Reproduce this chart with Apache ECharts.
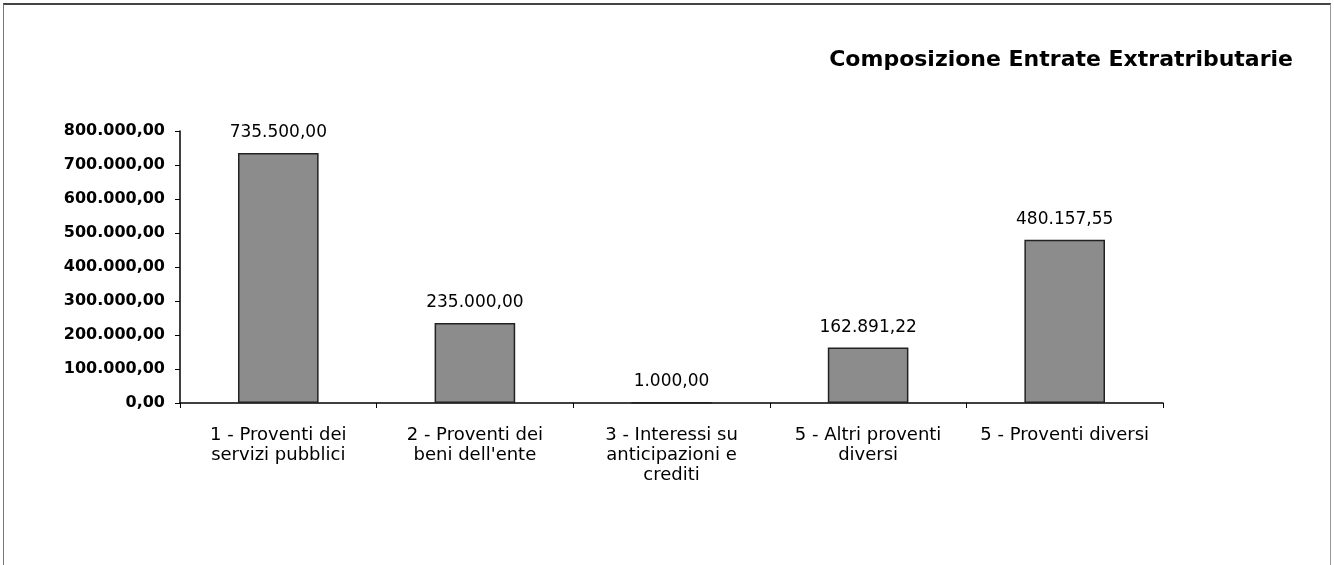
<!DOCTYPE html>
<html>
<head>
<meta charset="utf-8">
<script src="https://cdn.jsdelivr.net/npm/echarts@6/dist/echarts.min.js"></script>
<style>
  html, body { margin: 0; padding: 0; background: #fff; }
  #frame { position: absolute; left: 3px; top: 3px; width: 1328px; height: 570px;
           border-top: 2px solid #444; border-left: 1px solid #777; border-right: 1px solid #999; box-sizing: border-box; }
  #main { position: absolute; left: 0; top: 0; width: 1334px; height: 565px; }
</style>
</head>
<body>
<div id="frame"></div>
<div id="main"></div>
<script>
// dati del grafico
var categorie = [
    '1 - Proventi dei\nservizi pubblici',
    '2 - Proventi dei\nbeni dell\'ente',
    '3 - Interessi su\nanticipazioni e\ncrediti',
    '5 - Altri proventi\ndiversi',
    '5 - Proventi diversi'
];
var valori = [735500.00, 235000.00, 1000.00, 162891.22, 480157.55];
var etichetteY = ['0,00', '100.000,00', '200.000,00', '300.000,00', '400.000,00',
                  '500.000,00', '600.000,00', '700.000,00', '800.000,00'];

// formato italiano 1.234,56
function formatta(v) {
    var parti = v.toFixed(2).split('.');
    parti[0] = parti[0].replace(/\B(?=(\d{3})+(?!\d))/g, '.');
    return parti[0] + ',' + parti[1];
}

var myChart = echarts.init(document.getElementById('main'));

var option = {
    animation: false,
    textStyle: { fontFamily: 'DejaVu Sans, sans-serif' },
    title: {
        text: 'Composizione Entrate Extratributarie',
        right: 36,
        top: 44,
        textStyle: { fontSize: 22, fontWeight: 'bold', color: '#000', fontFamily: 'DejaVu Sans' }
    },
    grid: { left: 180, right: 171, top: 131, bottom: 162 },
    xAxis: {
        type: 'category',
        data: categorie,
        axisLine: { lineStyle: { color: '#000', width: 1.5 } },
        axisTick: { show: true, length: 5, lineStyle: { color: '#000' } },
        axisLabel: {
            color: '#000', fontSize: 18, lineHeight: 20, margin: 22, interval: 0
        }
    },
    yAxis: {
        type: 'value',
        min: 0, max: 800000, interval: 100000,
        splitLine: { show: false },
        axisLine: { show: true, lineStyle: { color: '#000', width: 1.5 } },
        axisTick: { show: true, inside: false, length: 5, lineStyle: { color: '#000' } },
        axisLabel: {
            color: '#000', fontSize: 16, fontWeight: 'bold', margin: 15,
            formatter: function (v) { return etichetteY[Math.round(v / 100000)]; }
        }
    },
    series: [{
        type: 'bar',
        data: valori,
        barWidth: '41%',
        itemStyle: { color: '#8c8c8c', borderColor: '#222', borderWidth: 1.5 },
        label: {
            show: true, position: 'top', distance: 12,
            color: '#000', fontSize: 17,
            formatter: function (p) { return formatta(p.value); }
        }
    }]
};

myChart.setOption(option);
</script>
</body>
</html>
